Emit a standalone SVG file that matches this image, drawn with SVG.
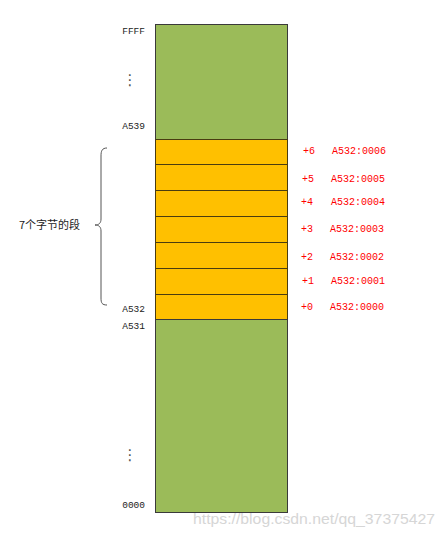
<svg xmlns="http://www.w3.org/2000/svg" width="446" height="538" viewBox="0 0 446 538">
<style>
.lbl{font-family:"Liberation Mono","DejaVu Sans Mono",monospace;font-size:9.5px;fill:#222}
.red{font-family:"Liberation Mono","DejaVu Sans Mono",monospace;font-size:10px;fill:#ff0000}
.green{fill:#9bbb59;stroke:#3a3a3a;stroke-width:1}
.orange{fill:#ffc000;stroke:#4a3c10;stroke-width:1}
.dots{font-family:"DejaVu Sans",sans-serif;font-size:15px;fill:#555}
</style>
<rect width="446" height="538" fill="#ffffff"/>
<g id="memory">
  <g id="top-green"><rect class="green" x="155.5" y="24.5" width="132" height="115"/></g>
  <g id="seg6"><rect class="orange" x="155.5" y="139.5" width="132" height="25"/></g>
  <g id="seg5"><rect class="orange" x="155.5" y="164.5" width="132" height="26"/></g>
  <g id="seg4"><rect class="orange" x="155.5" y="190.5" width="132" height="26"/></g>
  <g id="seg3"><rect class="orange" x="155.5" y="216.5" width="132" height="26"/></g>
  <g id="seg2"><rect class="orange" x="155.5" y="242.5" width="132" height="26"/></g>
  <g id="seg1"><rect class="orange" x="155.5" y="268.5" width="132" height="26"/></g>
  <g id="seg0"><rect class="orange" x="155.5" y="294.5" width="132" height="25"/></g>
  <g id="bottom-green"><rect class="green" x="155.5" y="319.5" width="132" height="193"/></g>
</g>
<g id="left-labels">
  <text class="lbl" x="145" y="34" text-anchor="end">FFFF</text>
  <text class="dots" x="130" y="85" text-anchor="middle">⋮</text>
  <text class="lbl" x="145" y="129" text-anchor="end">A539</text>
  <text class="lbl" x="145" y="312" text-anchor="end">A532</text>
  <text class="lbl" x="145" y="329" text-anchor="end">A531</text>
  <text class="dots" x="130" y="460" text-anchor="middle">⋮</text>
  <text class="lbl" x="145" y="508" text-anchor="end">0000</text>
</g>
<g id="right-labels">
  <text class="red" x="303" y="154">+6</text><text class="red" x="332" y="154">A532:0006</text>
  <text class="red" x="302" y="182">+5</text><text class="red" x="331" y="182">A532:0005</text>
  <text class="red" x="301" y="205">+4</text><text class="red" x="331" y="205">A532:0004</text>
  <text class="red" x="301" y="232">+3</text><text class="red" x="330" y="232">A532:0003</text>
  <text class="red" x="301" y="260">+2</text><text class="red" x="330" y="260">A532:0002</text>
  <text class="red" x="302" y="284">+1</text><text class="red" x="331" y="284">A532:0001</text>
  <text class="red" x="301" y="310">+0</text><text class="red" x="330" y="310">A532:0000</text>
</g>
<g id="connectors">
  <path d="M107,148 C102,148 101,151 101,156 L101,219 C101,223 99,225 95,225 C99,225 101,227 101,231 L101,298 C101,303 102,305 107,305" fill="none" stroke="#555" stroke-width="1"/>
</g>
<g id="brace-label">
  <text x="19" y="229" font-family="'Noto Sans CJK SC','DejaVu Sans',sans-serif" font-size="11" fill="#222">7个字节的段</text>
</g>
<text x="193" y="524" font-family="'Liberation Sans',Arial,sans-serif" font-size="15" fill="#d6d6d6" textLength="242" lengthAdjust="spacingAndGlyphs">https://blog.csdn.net/qq_37375427</text>
</svg>
